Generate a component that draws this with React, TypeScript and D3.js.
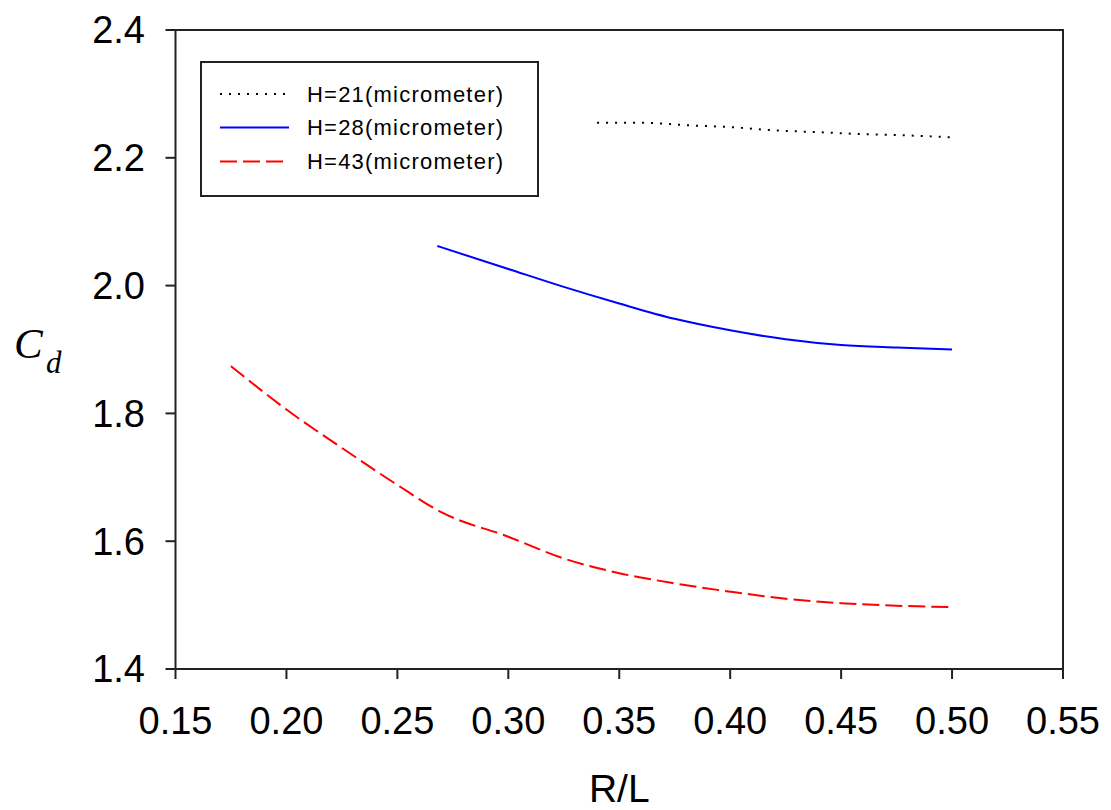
import React from 'react'
import * as d3 from 'd3'

// R/L values and Cd for each channel height
const rl21 = [0.34, 0.36, 0.38, 0.40, 0.42, 0.44, 0.46, 0.48, 0.50]
const cd21 = [2.255, 2.255, 2.251, 2.248, 2.243, 2.240, 2.237, 2.235, 2.232]

const rl28 = [0.268, 0.30, 0.325, 0.35, 0.375, 0.40, 0.425, 0.45, 0.475, 0.50]
const cd28 = [2.062, 2.026, 1.998, 1.972, 1.948, 1.930, 1.916, 1.907, 1.903, 1.900]

const rl43 = [0.175, 0.20, 0.225, 0.25, 0.27, 0.30, 0.325, 0.35, 0.375, 0.40, 0.425, 0.45, 0.475, 0.50]
const cd43 = [1.874, 1.806, 1.746, 1.688, 1.645, 1.607, 1.573, 1.550, 1.534, 1.521, 1.510, 1.503, 1.499, 1.497]

const xTicks = [0.15, 0.20, 0.25, 0.30, 0.35, 0.40, 0.45, 0.50, 0.55]
const yTicks = [1.4, 1.6, 1.8, 2.0, 2.2, 2.4]

const seriesNames = ['H=21(micrometer)', 'H=28(micrometer)', 'H=43(micrometer)']

const width = 1111
const height = 810
const left = 175.5
const right = 1063
const top = 30
const bottom = 669

const sans = 'Arial, "Liberation Sans", sans-serif'
const serif = '"Times New Roman", "Liberation Serif", serif'

export default function App() {
    const x = d3.scaleLinear().domain([0.15, 0.55]).range([left, right])
    const y = d3.scaleLinear().domain([1.4, 2.4]).range([bottom, top])

    const line = d3.line<[number, number]>()
        .x(d => x(d[0]))
        .y(d => y(d[1]))
        .curve(d3.curveMonotoneX)

    const series = [
        { pts: rl21.map((r, i) => [r, cd21[i]] as [number, number]), color: '#000', dash: '2,7' },
        { pts: rl28.map((r, i) => [r, cd28[i]] as [number, number]), color: '#0000ff', dash: null },
        { pts: rl43.map((r, i) => [r, cd43[i]] as [number, number]), color: '#ff0000', dash: '17,6' },
    ]

    const legendRows = [94, 127.5, 161.5]

    return (
        <svg width={width} height={height} style={{ position: 'absolute', left: 0, top: 0, background: '#fff' }}>
            {/* plot frame */}
            <rect x={left} y={top} width={right - left} height={bottom - top} fill="none" stroke="#222" strokeWidth={2} />

            {/* y ticks */}
            {yTicks.map(t => (
                <g key={'y' + t}>
                    <line x1={left - 10} x2={left} y1={y(t)} y2={y(t)} stroke="#222" strokeWidth={2} />
                    <text x={145} y={y(t)} dy="0.35em" textAnchor="end" fontFamily={sans} fontSize={38} fill="#000">
                        {t.toFixed(1)}
                    </text>
                </g>
            ))}

            {/* x ticks */}
            {xTicks.map(t => (
                <g key={'x' + t}>
                    <line x1={x(t)} x2={x(t)} y1={bottom} y2={bottom + 10} stroke="#222" strokeWidth={2} />
                    <text x={x(t)} y={734} textAnchor="middle" fontFamily={sans} fontSize={38} fill="#000">
                        {t.toFixed(2)}
                    </text>
                </g>
            ))}

            {/* axis titles */}
            <text x={(left + right) / 2} y={802} textAnchor="middle" fontFamily={sans} fontSize={39} fill="#000">R/L</text>
            <text x={14} y={358} fontFamily={serif} fontStyle="italic" fontSize={43} fill="#000">
                C<tspan x={46} y={373} fontSize={31}>d</tspan>
            </text>

            {/* curves */}
            {series.map((s, i) => (
                <path key={i} d={line(s.pts) || ''} fill="none" stroke={s.color} strokeWidth={2}
                    strokeDasharray={s.dash || undefined} />
            ))}

            {/* legend */}
            <rect x={201} y={62} width={337} height={134} fill="#fff" stroke="#222" strokeWidth={2} />
            {series.map((s, i) => (
                <g key={'leg' + i}>
                    <line x1={220} x2={289} y1={legendRows[i]} y2={legendRows[i]} stroke={s.color} strokeWidth={2}
                        strokeDasharray={s.dash || undefined} />
                    <text x={307} y={legendRows[i]} dy="0.36em" fontFamily={sans} fontSize={22} fill="#000"
                        textLength={196} lengthAdjust="spacing">
                        {seriesNames[i]}
                    </text>
                </g>
            ))}
        </svg>
    )
}
